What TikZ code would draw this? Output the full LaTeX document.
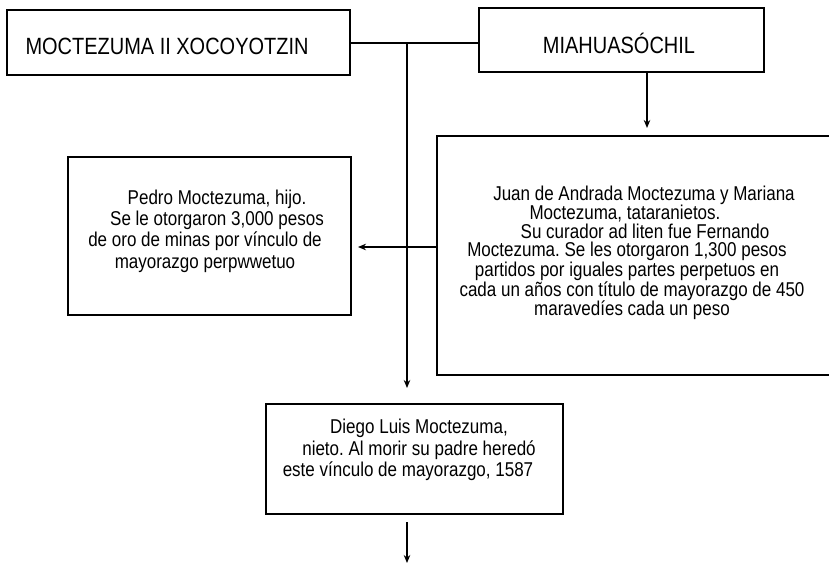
\documentclass[tikz,border=0pt]{standalone}
\usepackage{fontspec}
\setmainfont[FakeStretch=0.85]{Liberation Sans}
\usetikzlibrary{arrows.meta,calc}
\begin{document}
\frenchspacing
\begin{tikzpicture}[x=1pt,y=-1pt,
  box/.style={draw=black,line width=2pt,rectangle,inner sep=0pt,anchor=north west},
  title/.style={font=\fontsize{23.5}{28}\selectfont,inner sep=0pt},
  body/.style={font=\fontsize{20}{21.3}\selectfont,align=center,inner sep=0pt},
  conn/.style={line width=1.4pt},
  arr/.style={line width=1.4pt,-{Stealth[length=8pt,width=6.5pt]}}]
\useasboundingbox[fill=white] (0,0) rectangle (829,564);
% boxes
\node[box,minimum width=343pt,minimum height=65pt] (a) at (6,9) {};
\node[box,minimum width=285pt,minimum height=64pt] (b) at (478,7) {};
\node[box,minimum width=400pt,minimum height=239pt] (c) at (436,135) {};
\node[box,minimum width=283pt,minimum height=158pt] (p) at (67,156) {};
\node[box,minimum width=297pt,minimum height=110pt] (d) at (265,403) {};
% texts
\node[title] (ta) at (167,46) {MOCTEZUMA II XOCOYOTZIN};
\node[title] (tb) at (619,43) {MIAHUASÓCHIL};
\node[body,font=\fontsize{20}{18.3}\selectfont] (tc) at (632,253) {\hspace*{24pt}Juan de Andrada Moctezuma y Mariana\\
\hspace*{-14pt}Moctezuma, tataranietos.\\
\hspace*{26pt}Su curador ad liten fue Fernando\\
\hspace*{-10pt}Moctezuma. Se les otorgaron 1,300 pesos\\
\hspace*{-10pt}partidos por iguales partes perpetuos en\\
cada un años con título de mayorazgo de 450\\
maravedíes cada un peso};
\node[body] (tp) at (208,231) {\hspace*{18pt}Pedro Moctezuma, hijo.\\
\hspace*{18pt}Se le otorgaron 3,000 pesos\\
\hspace*{-6pt}de oro de minas por vínculo de\\
\hspace*{-6pt}mayorazgo perpwwetuo};
\node[body] (td) at (413,450) {\hspace*{12pt}Diego Luis Moctezuma,\\
\hspace*{12pt}nieto. Al morir su padre heredó\\
\hspace*{-10pt}este vínculo de mayorazgo, 1587};
% connectors
\coordinate (j) at (407,43);
\coordinate (dt) at (407,388);
\coordinate (ct) at (647,128);
\coordinate (pt) at (358,247);
\coordinate (s) at (407,522);
\coordinate (e) at (407,563);
\draw[conn] (a.east |- j) -- (b.west |- j);
\draw[arr] (j) -- (dt);
\draw[arr] (ct |- b.south) -- (ct);
\draw[arr] (c.west |- pt) -- (pt);
\draw[arr] (s) -- (e);
\end{tikzpicture}
\end{document}
